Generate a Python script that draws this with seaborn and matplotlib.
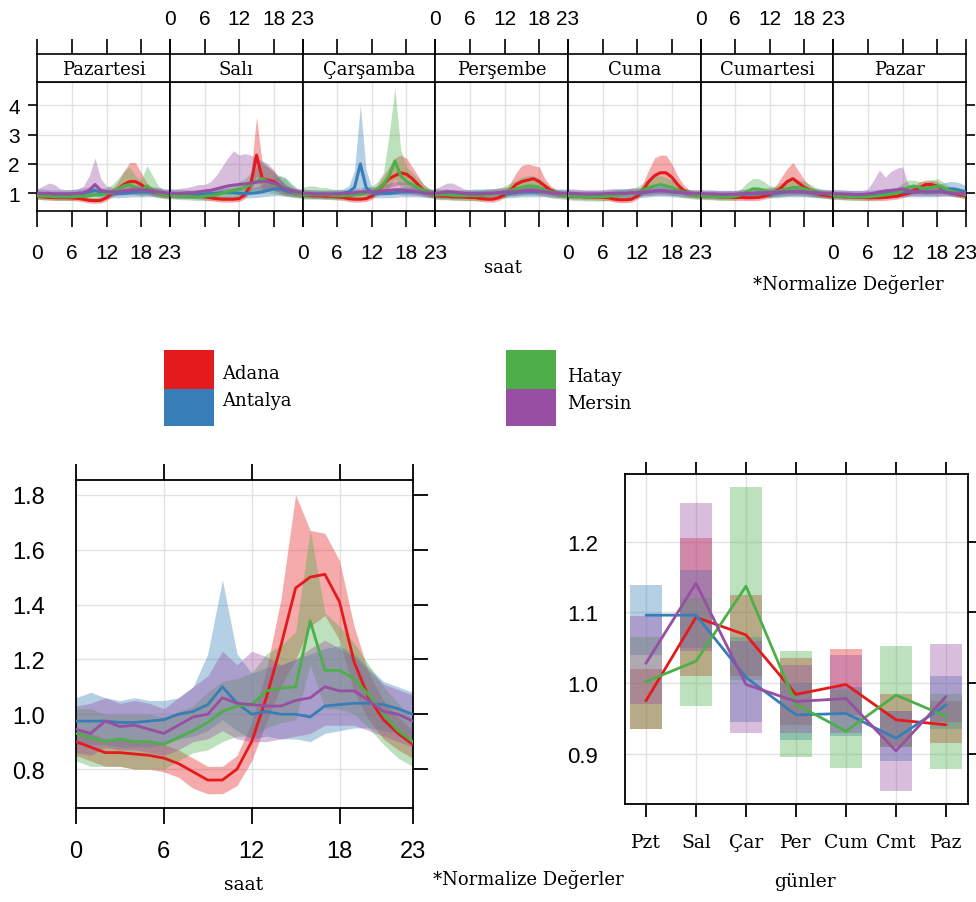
import matplotlib
matplotlib.use("Agg")
import matplotlib.pyplot as plt
import seaborn as sns
import pandas as pd
from matplotlib.patches import Rectangle

# ---------------- data ----------------
CITIES = ["Adana", "Antalya", "Hatay", "Mersin"]
COLORS = ["#E41A1C", "#377EB8", "#4DAF4A", "#984EA3"]
DAY_NAMES = ["Pazartesi", "Salı", "Çarşamba", "Perşembe", "Cuma", "Cumartesi", "Pazar"]
DAY_SHORT = ["Pzt", "Sal", "Çar", "Per", "Cum", "Cmt", "Paz"]
HOUR_TICKS = [0, 6, 12, 18, 23]
HOURS = list(range(24))

# weekly (day x hour) normalised values: mean, lower, upper
ADANA_WK = [
    [0.90,0.88,0.86,0.85,0.85,0.85,0.84,0.83,0.80,0.76,0.75,0.76,0.85,1.00,1.15,1.30,1.40,1.40,1.30,1.15,1.05,1.00,0.95,0.92],
    [0.95,0.93,0.92,0.92,0.92,0.90,0.88,0.85,0.82,0.80,0.80,0.80,0.82,0.95,1.30,2.30,1.50,1.45,1.40,1.25,1.10,1.05,1.00,0.98],
    [0.95,0.93,0.92,0.92,0.90,0.90,0.88,0.86,0.82,0.80,0.80,0.82,0.90,1.10,1.30,1.50,1.60,1.70,1.65,1.50,1.30,1.10,1.00,0.95],
    [0.92,0.90,0.90,0.88,0.88,0.87,0.86,0.85,0.82,0.80,0.80,0.85,0.95,1.10,1.30,1.40,1.45,1.50,1.40,1.25,1.10,1.00,0.95,0.92],
    [0.92,0.90,0.90,0.88,0.88,0.87,0.86,0.85,0.80,0.78,0.78,0.80,0.90,1.10,1.40,1.60,1.70,1.70,1.55,1.30,1.10,1.00,0.95,0.92],
    [0.92,0.90,0.90,0.88,0.88,0.87,0.86,0.86,0.85,0.85,0.86,0.90,0.95,1.05,1.20,1.40,1.50,1.35,1.20,1.10,1.00,0.95,0.92,0.90],
    [0.90,0.90,0.88,0.88,0.87,0.86,0.85,0.85,0.85,0.86,0.88,0.90,0.95,1.00,1.10,1.20,1.30,1.30,1.25,1.15,1.05,1.00,0.95,0.92]]
ADANA_WK_LO = [
    [0.80,0.78,0.77,0.76,0.76,0.76,0.75,0.74,0.70,0.67,0.66,0.67,0.75,0.88,1.00,1.10,1.15,1.15,1.08,1.00,0.92,0.88,0.84,0.82],
    [0.85,0.83,0.82,0.82,0.82,0.80,0.78,0.75,0.72,0.70,0.70,0.70,0.72,0.82,1.05,1.60,1.15,1.10,1.10,1.00,0.92,0.90,0.88,0.87],
    [0.85,0.83,0.82,0.82,0.80,0.80,0.78,0.76,0.72,0.70,0.70,0.72,0.80,0.95,1.05,1.20,1.25,1.30,1.30,1.20,1.05,0.95,0.88,0.85],
    [0.82,0.80,0.80,0.78,0.78,0.77,0.76,0.75,0.72,0.70,0.70,0.75,0.85,0.95,1.05,1.10,1.10,1.15,1.10,1.00,0.95,0.88,0.85,0.82],
    [0.82,0.80,0.80,0.78,0.78,0.77,0.76,0.75,0.70,0.68,0.68,0.70,0.80,0.95,1.10,1.25,1.30,1.30,1.20,1.05,0.95,0.88,0.85,0.82],
    [0.82,0.80,0.80,0.78,0.78,0.77,0.76,0.76,0.75,0.75,0.76,0.80,0.85,0.92,1.00,1.10,1.15,1.05,1.00,0.95,0.88,0.85,0.82,0.80],
    [0.80,0.80,0.78,0.78,0.77,0.76,0.75,0.75,0.75,0.76,0.78,0.80,0.85,0.90,0.98,1.05,1.12,1.12,1.10,1.02,0.95,0.90,0.85,0.82]]
ADANA_WK_HI = [
    [1.00,0.98,0.96,0.95,0.95,0.95,0.94,0.93,0.90,0.86,0.85,0.86,0.96,1.15,1.40,1.75,2.05,2.05,1.70,1.35,1.18,1.12,1.06,1.02],
    [1.05,1.03,1.02,1.02,1.02,1.00,0.98,0.95,0.92,0.90,0.90,0.90,0.93,1.10,1.60,3.60,2.00,1.90,1.75,1.50,1.30,1.20,1.12,1.08],
    [1.05,1.03,1.02,1.02,1.00,1.00,0.98,0.96,0.92,0.90,0.90,0.92,1.02,1.30,1.60,1.90,2.20,2.30,2.20,1.90,1.60,1.30,1.15,1.05],
    [1.02,1.00,1.00,0.98,0.98,0.97,0.96,0.95,0.92,0.90,0.90,0.95,1.08,1.35,1.70,1.95,2.00,1.95,1.90,1.50,1.25,1.12,1.05,1.02],
    [1.02,1.00,1.00,0.98,0.98,0.97,0.96,0.95,0.90,0.88,0.88,0.90,1.02,1.35,1.80,2.20,2.30,2.30,2.00,1.60,1.30,1.12,1.05,1.02],
    [1.02,1.00,1.00,0.98,0.98,0.97,0.96,0.96,0.95,0.95,0.96,1.00,1.08,1.25,1.55,1.85,2.05,1.75,1.45,1.25,1.12,1.05,1.02,1.00],
    [1.00,1.00,0.98,0.98,0.97,0.96,0.95,0.95,0.95,0.96,0.98,1.00,1.05,1.12,1.25,1.40,1.45,1.45,1.40,1.28,1.15,1.10,1.05,1.02]]

ANTALYA_WK = [
    [1.00,0.98,0.98,0.97,0.97,0.97,0.98,1.00,1.00,1.05,1.10,1.02,1.00,1.00,1.00,1.00,1.02,1.05,1.05,1.05,1.05,1.02,1.00,1.00],
    [1.00,0.98,0.98,0.97,0.97,0.97,0.98,1.00,1.00,1.02,1.02,1.02,1.00,1.00,1.00,1.02,1.05,1.10,1.15,1.15,1.10,1.05,1.02,1.00],
    [1.00,0.98,0.98,0.97,0.97,0.97,0.98,1.00,1.05,1.20,2.00,1.20,1.00,1.00,1.00,1.00,1.02,1.05,1.05,1.05,1.05,1.02,1.00,1.00],
    [1.00,0.98,0.98,0.97,0.97,0.97,0.98,1.00,1.00,1.00,1.00,1.00,1.00,1.00,1.02,1.05,1.05,1.05,1.05,1.05,1.02,1.00,1.00,1.00],
    [0.98,0.97,0.97,0.96,0.96,0.96,0.97,0.98,1.00,1.00,1.00,1.00,1.00,1.02,1.05,1.08,1.10,1.08,1.05,1.03,1.02,1.00,0.98,0.98],
    [0.98,0.97,0.97,0.96,0.96,0.96,0.96,0.97,0.98,0.98,1.00,1.00,1.00,1.00,1.02,1.05,1.05,1.05,1.05,1.02,1.00,1.00,0.98,0.98],
    [0.98,0.97,0.97,0.96,0.96,0.96,0.96,0.97,0.98,1.00,1.00,1.02,1.05,1.05,1.05,1.05,1.05,1.05,1.05,1.10,1.15,1.15,1.10,1.05]]
ANTALYA_WK_LO = [
    [0.85,0.83,0.83,0.83,0.82,0.82,0.83,0.85,0.85,0.88,0.90,0.86,0.85,0.85,0.85,0.86,0.87,0.88,0.88,0.88,0.88,0.86,0.85,0.85],
    [0.85,0.83,0.83,0.82,0.82,0.82,0.83,0.85,0.85,0.86,0.86,0.86,0.85,0.85,0.85,0.86,0.88,0.90,0.92,0.92,0.90,0.88,0.86,0.85],
    [0.85,0.83,0.83,0.82,0.82,0.82,0.83,0.85,0.88,0.95,1.20,0.95,0.85,0.85,0.85,0.85,0.86,0.88,0.88,0.88,0.88,0.86,0.85,0.85],
    [0.85,0.83,0.83,0.82,0.82,0.82,0.83,0.85,0.85,0.85,0.85,0.85,0.85,0.85,0.86,0.88,0.88,0.88,0.88,0.88,0.86,0.85,0.85,0.85],
    [0.84,0.83,0.83,0.82,0.82,0.82,0.83,0.84,0.85,0.85,0.85,0.85,0.85,0.86,0.88,0.90,0.90,0.90,0.88,0.87,0.86,0.85,0.84,0.84],
    [0.84,0.83,0.83,0.82,0.82,0.82,0.82,0.83,0.84,0.84,0.85,0.85,0.85,0.85,0.86,0.88,0.88,0.88,0.88,0.86,0.85,0.85,0.84,0.84],
    [0.84,0.83,0.83,0.82,0.82,0.82,0.82,0.83,0.84,0.85,0.85,0.87,0.88,0.88,0.88,0.88,0.88,0.88,0.88,0.90,0.92,0.92,0.90,0.88]]
ANTALYA_WK_HI = [
    [1.15,1.15,1.12,1.12,1.12,1.12,1.13,1.15,1.18,1.22,1.30,1.18,1.15,1.15,1.15,1.15,1.18,1.22,1.22,1.22,1.20,1.18,1.15,1.15],
    [1.15,1.13,1.13,1.12,1.12,1.12,1.13,1.15,1.15,1.18,1.18,1.18,1.15,1.15,1.18,1.22,1.30,1.40,1.50,1.60,1.50,1.30,1.18,1.15],
    [1.15,1.13,1.13,1.12,1.12,1.12,1.13,1.15,1.25,1.80,4.00,1.80,1.18,1.15,1.15,1.15,1.18,1.20,1.22,1.22,1.20,1.18,1.15,1.15],
    [1.15,1.13,1.13,1.12,1.12,1.12,1.13,1.15,1.15,1.15,1.15,1.15,1.15,1.15,1.18,1.22,1.22,1.22,1.22,1.20,1.18,1.15,1.15,1.15],
    [1.12,1.12,1.12,1.10,1.10,1.10,1.12,1.12,1.15,1.15,1.15,1.15,1.15,1.18,1.22,1.28,1.30,1.28,1.22,1.18,1.15,1.13,1.12,1.12],
    [1.12,1.12,1.12,1.10,1.10,1.10,1.10,1.12,1.12,1.12,1.15,1.15,1.15,1.15,1.18,1.22,1.22,1.22,1.20,1.18,1.15,1.15,1.12,1.12],
    [1.12,1.12,1.12,1.10,1.10,1.10,1.10,1.12,1.12,1.15,1.15,1.18,1.22,1.22,1.22,1.25,1.28,1.30,1.30,1.35,1.40,1.40,1.35,1.25]]

HATAY_WK = [
    [0.92,0.90,0.90,0.88,0.88,0.88,0.88,0.90,0.90,0.92,0.95,0.95,1.00,1.05,1.15,1.25,1.30,1.20,1.10,1.25,1.10,1.00,0.95,0.92],
    [0.95,0.92,0.90,0.90,0.88,0.88,0.90,0.92,0.95,1.00,1.05,1.10,1.15,1.20,1.30,1.40,1.50,1.40,1.30,1.25,1.20,1.10,1.00,0.95],
    [0.95,0.95,0.95,0.95,0.95,0.93,0.92,0.92,0.92,0.95,0.95,1.00,1.05,1.15,1.30,1.60,2.10,1.60,1.40,1.30,1.20,1.10,1.00,0.95],
    [0.95,0.95,0.95,0.93,0.92,0.92,0.92,0.92,0.92,0.95,0.98,1.00,1.05,1.10,1.15,1.20,1.25,1.25,1.20,1.10,1.05,1.00,0.95,0.92],
    [0.92,0.90,0.90,0.88,0.88,0.88,0.88,0.90,0.92,0.95,0.98,1.00,1.02,1.10,1.20,1.25,1.30,1.25,1.20,1.10,1.05,1.00,0.95,0.92],
    [0.92,0.90,0.90,0.88,0.88,0.88,0.90,0.95,1.05,1.15,1.15,1.10,1.05,1.05,1.10,1.15,1.20,1.20,1.15,1.10,1.05,1.00,0.98,0.95],
    [0.92,0.90,0.90,0.88,0.88,0.88,0.88,0.90,0.92,0.95,0.98,1.00,1.10,1.20,1.25,1.20,1.15,1.20,1.25,1.20,1.10,1.05,1.00,0.95]]
HATAY_WK_LO = [
    [0.80,0.78,0.78,0.76,0.76,0.76,0.76,0.78,0.78,0.78,0.80,0.80,0.85,0.90,0.95,1.00,1.00,0.95,0.90,0.95,0.90,0.85,0.82,0.80],
    [0.82,0.80,0.78,0.78,0.76,0.75,0.75,0.75,0.78,0.80,0.85,0.88,0.92,0.95,1.00,1.05,1.10,1.05,1.00,0.95,0.92,0.88,0.85,0.82],
    [0.80,0.80,0.80,0.80,0.80,0.78,0.78,0.78,0.78,0.80,0.80,0.85,0.88,0.95,1.05,1.20,1.50,1.20,1.05,1.00,0.95,0.90,0.85,0.82],
    [0.80,0.78,0.78,0.76,0.75,0.75,0.75,0.75,0.75,0.78,0.80,0.82,0.85,0.90,0.92,0.95,0.98,0.98,0.95,0.90,0.85,0.82,0.80,0.78],
    [0.78,0.76,0.75,0.74,0.74,0.74,0.74,0.76,0.78,0.80,0.82,0.85,0.88,0.92,0.95,0.98,1.00,0.98,0.95,0.90,0.85,0.82,0.80,0.78],
    [0.80,0.78,0.78,0.76,0.76,0.76,0.78,0.82,0.88,0.92,0.92,0.90,0.88,0.88,0.90,0.92,0.95,0.95,0.92,0.90,0.86,0.84,0.82,0.80],
    [0.80,0.78,0.78,0.76,0.76,0.76,0.76,0.78,0.80,0.82,0.85,0.88,0.92,0.98,1.02,1.00,0.95,0.98,1.00,0.98,0.92,0.88,0.85,0.82]]
HATAY_WK_HI = [
    [1.05,1.03,1.03,1.00,1.00,1.00,1.00,1.02,1.05,1.10,1.15,1.15,1.20,1.30,1.50,1.75,1.90,1.60,1.45,1.95,1.60,1.25,1.10,1.05],
    [1.08,1.05,1.02,1.02,1.00,1.00,1.02,1.05,1.10,1.15,1.22,1.30,1.40,1.50,1.70,1.90,2.10,1.90,1.70,1.60,1.55,1.35,1.15,1.08],
    [1.20,1.25,1.25,1.20,1.20,1.15,1.12,1.10,1.10,1.12,1.12,1.18,1.25,1.40,1.70,3.00,4.60,2.50,1.90,1.70,1.50,1.30,1.15,1.10],
    [1.15,1.15,1.15,1.12,1.10,1.10,1.10,1.10,1.10,1.12,1.15,1.18,1.25,1.35,1.45,1.55,1.60,1.60,1.50,1.35,1.20,1.12,1.08,1.05],
    [1.08,1.05,1.05,1.02,1.02,1.02,1.02,1.05,1.08,1.12,1.15,1.18,1.22,1.35,1.50,1.60,1.60,1.55,1.45,1.30,1.20,1.12,1.08,1.05],
    [1.05,1.03,1.03,1.00,1.00,1.00,1.05,1.15,1.35,1.50,1.50,1.40,1.25,1.25,1.35,1.45,1.50,1.45,1.40,1.30,1.20,1.12,1.10,1.08],
    [1.05,1.03,1.03,1.00,1.00,1.00,1.00,1.02,1.05,1.10,1.15,1.20,1.35,1.45,1.45,1.40,1.40,1.45,1.50,1.40,1.25,1.15,1.10,1.05]]

MERSIN_WK = [
    [1.00,1.00,1.00,0.98,0.98,0.98,0.98,1.00,1.02,1.10,1.30,1.10,1.05,1.05,1.05,1.08,1.10,1.12,1.12,1.10,1.08,1.05,1.02,1.00],
    [1.00,1.00,1.00,1.02,1.02,1.05,1.08,1.10,1.15,1.20,1.25,1.28,1.30,1.32,1.35,1.38,1.40,1.40,1.35,1.25,1.15,1.10,1.05,1.02],
    [1.00,1.00,0.98,0.98,0.98,0.98,0.98,1.00,1.00,1.02,1.05,1.05,1.05,1.05,1.08,1.10,1.12,1.12,1.10,1.08,1.05,1.02,1.00,1.00],
    [1.00,1.02,1.05,1.05,1.02,1.00,0.98,0.98,0.98,1.00,1.00,1.02,1.05,1.05,1.05,1.08,1.10,1.10,1.08,1.05,1.02,1.00,1.00,1.00],
    [1.00,1.00,0.98,0.98,0.98,0.98,0.98,1.00,1.00,1.00,1.00,1.02,1.02,1.05,1.05,1.08,1.08,1.08,1.05,1.05,1.02,1.00,1.00,1.00],
    [1.00,0.98,0.98,0.97,0.97,0.97,0.97,0.98,1.00,1.00,1.02,1.02,1.03,1.03,1.05,1.05,1.05,1.05,1.05,1.03,1.02,1.00,1.00,1.00],
    [0.98,0.98,0.97,0.97,0.96,0.96,0.98,1.00,1.05,1.08,1.10,1.12,1.15,1.08,1.05,1.05,1.05,1.05,1.05,1.05,1.02,1.00,1.00,1.00]]
MERSIN_WK_LO = [
    [0.88,0.88,0.88,0.86,0.86,0.86,0.86,0.88,0.90,0.95,1.05,0.95,0.92,0.92,0.92,0.94,0.95,0.96,0.96,0.95,0.94,0.92,0.90,0.88],
    [0.88,0.88,0.88,0.88,0.90,0.92,0.92,0.95,0.98,1.00,1.02,1.05,1.08,1.10,1.10,1.12,1.12,1.12,1.10,1.05,0.98,0.95,0.92,0.90],
    [0.88,0.88,0.86,0.86,0.86,0.86,0.86,0.88,0.88,0.90,0.92,0.92,0.92,0.92,0.94,0.95,0.96,0.96,0.95,0.94,0.92,0.90,0.88,0.88],
    [0.88,0.90,0.92,0.92,0.90,0.88,0.86,0.86,0.86,0.88,0.88,0.90,0.92,0.92,0.92,0.94,0.95,0.95,0.94,0.92,0.90,0.88,0.88,0.88],
    [0.88,0.88,0.86,0.86,0.86,0.86,0.86,0.88,0.88,0.88,0.88,0.90,0.90,0.92,0.92,0.94,0.94,0.94,0.92,0.92,0.90,0.88,0.88,0.88],
    [0.88,0.86,0.86,0.85,0.85,0.85,0.85,0.86,0.88,0.88,0.90,0.90,0.90,0.90,0.92,0.92,0.92,0.92,0.92,0.90,0.90,0.88,0.88,0.88],
    [0.86,0.86,0.85,0.85,0.84,0.84,0.86,0.88,0.92,0.92,0.94,0.95,0.98,0.94,0.92,0.92,0.92,0.92,0.92,0.92,0.90,0.88,0.88,0.88]]
MERSIN_WK_HI = [
    [1.15,1.25,1.35,1.30,1.15,1.12,1.12,1.15,1.25,1.60,2.20,1.50,1.25,1.20,1.20,1.22,1.25,1.28,1.28,1.25,1.22,1.20,1.15,1.12],
    [1.15,1.15,1.18,1.20,1.25,1.30,1.30,1.40,1.60,1.90,2.20,2.45,2.30,2.35,2.30,2.20,2.10,2.00,1.80,1.50,1.30,1.20,1.15,1.12],
    [1.12,1.12,1.10,1.10,1.10,1.10,1.10,1.12,1.12,1.15,1.20,1.20,1.22,1.25,1.30,1.35,1.40,1.40,1.35,1.25,1.20,1.15,1.12,1.12],
    [1.15,1.25,1.35,1.35,1.25,1.15,1.12,1.12,1.12,1.15,1.15,1.18,1.20,1.20,1.22,1.25,1.28,1.28,1.25,1.20,1.15,1.12,1.12,1.12],
    [1.15,1.15,1.12,1.12,1.12,1.12,1.12,1.15,1.15,1.15,1.15,1.18,1.18,1.20,1.22,1.25,1.25,1.25,1.22,1.20,1.15,1.12,1.12,1.12],
    [1.12,1.10,1.10,1.10,1.10,1.10,1.10,1.12,1.15,1.15,1.18,1.18,1.20,1.20,1.22,1.22,1.22,1.22,1.20,1.18,1.15,1.12,1.12,1.12],
    [1.12,1.12,1.10,1.10,1.10,1.10,1.15,1.45,1.80,1.55,1.75,1.85,1.90,1.30,1.20,1.20,1.22,1.22,1.20,1.20,1.15,1.12,1.12,1.12]]

# hourly profile (mean, lower, upper)
ADANA_HR = [0.90,0.88,0.86,0.86,0.855,0.85,0.84,0.82,0.79,0.76,0.76,0.80,0.90,1.06,1.25,1.46,1.50,1.51,1.41,1.19,1.06,0.98,0.93,0.89]
ADANA_HR_LO = [0.85,0.83,0.81,0.81,0.80,0.80,0.79,0.77,0.73,0.71,0.71,0.74,0.83,0.97,1.10,1.20,1.32,1.36,1.27,1.08,0.98,0.91,0.87,0.84]
ADANA_HR_HI = [0.95,0.93,0.91,0.91,0.90,0.90,0.89,0.87,0.84,0.81,0.81,0.85,0.97,1.16,1.42,1.80,1.67,1.66,1.56,1.32,1.15,1.05,0.99,0.94]
ANTALYA_HR = [0.975,0.975,0.975,0.97,0.97,0.975,0.98,1.00,1.01,1.035,1.10,1.04,1.00,1.01,1.00,1.00,0.99,1.03,1.035,1.04,1.04,1.035,1.02,1.00]
ANTALYA_HR_LO = [0.89,0.89,0.89,0.88,0.88,0.88,0.89,0.91,0.92,0.94,0.98,0.94,0.91,0.92,0.91,0.91,0.90,0.93,0.94,0.95,0.95,0.94,0.93,0.91]
ANTALYA_HR_HI = [1.06,1.08,1.06,1.05,1.06,1.05,1.05,1.06,1.10,1.22,1.49,1.22,1.15,1.17,1.18,1.20,1.22,1.24,1.25,1.22,1.17,1.12,1.10,1.08]
HATAY_HR = [0.93,0.915,0.90,0.91,0.90,0.90,0.89,0.915,0.94,0.97,1.01,1.03,1.035,1.085,1.095,1.10,1.34,1.16,1.16,1.13,1.07,1.00,0.94,0.90]
HATAY_HR_LO = [0.83,0.81,0.81,0.81,0.80,0.80,0.80,0.83,0.86,0.87,0.90,0.92,0.92,0.95,0.97,0.98,1.18,1.02,1.02,1.00,0.95,0.89,0.84,0.81]
HATAY_HR_HI = [1.02,1.02,1.00,1.00,1.00,1.00,0.99,1.01,1.03,1.08,1.12,1.13,1.15,1.22,1.25,1.30,1.67,1.37,1.32,1.26,1.18,1.10,1.04,0.98]
MERSIN_HR = [0.945,0.93,0.975,0.955,0.96,0.945,0.93,0.96,0.99,1.00,1.06,1.04,1.035,1.03,1.03,1.05,1.06,1.10,1.085,1.085,1.05,1.01,1.00,0.975]
MERSIN_HR_LO = [0.86,0.85,0.88,0.87,0.87,0.86,0.85,0.87,0.90,0.91,0.94,0.91,0.90,0.90,0.91,0.92,0.93,0.96,0.96,0.96,0.94,0.92,0.90,0.88]
MERSIN_HR_HI = [1.03,1.04,1.06,1.04,1.05,1.04,1.02,1.06,1.10,1.14,1.23,1.18,1.23,1.21,1.18,1.20,1.24,1.27,1.24,1.21,1.16,1.11,1.09,1.07]

# day-of-week profile (mean, lower, upper)
ADANA_DAY = [0.975, 1.093, 1.068, 0.984, 0.998, 0.948, 0.941]
ADANA_DAY_LO = [0.935, 1.010, 1.010, 0.940, 0.955, 0.910, 0.915]
ADANA_DAY_HI = [1.020, 1.205, 1.125, 1.035, 1.048, 0.985, 0.975]
ANTALYA_DAY = [1.096, 1.096, 1.008, 0.955, 0.957, 0.922, 0.969]
ANTALYA_DAY_LO = [1.040, 1.050, 0.945, 0.920, 0.925, 0.890, 0.935]
ANTALYA_DAY_HI = [1.138, 1.160, 1.065, 1.000, 0.995, 0.960, 1.010]
HATAY_DAY = [1.002, 1.031, 1.137, 0.970, 0.932, 0.983, 0.953]
HATAY_DAY_LO = [0.935, 0.967, 1.005, 0.895, 0.880, 0.910, 0.878]
HATAY_DAY_HI = [1.065, 1.120, 1.277, 1.045, 0.990, 1.052, 0.985]
MERSIN_DAY = [1.028, 1.141, 0.998, 0.974, 0.978, 0.904, 0.981]
MERSIN_DAY_LO = [0.970, 1.045, 0.930, 0.930, 0.930, 0.848, 0.945]
MERSIN_DAY_HI = [1.095, 1.255, 1.060, 1.025, 1.040, 0.960, 1.055]

# ---------------- tables ----------------
wk_sets = [(ADANA_WK, ADANA_WK_LO, ADANA_WK_HI), (ANTALYA_WK, ANTALYA_WK_LO, ANTALYA_WK_HI),
           (HATAY_WK, HATAY_WK_LO, HATAY_WK_HI), (MERSIN_WK, MERSIN_WK_LO, MERSIN_WK_HI)]
rows = []
for c, (m, lo, hi) in zip(CITIES, wk_sets):
    for d in range(7):
        for h in HOURS:
            rows.append((c, d, h, m[d][h], lo[d][h], hi[d][h]))
df_wk = pd.DataFrame(rows, columns=["city", "day", "hour", "value", "lo", "hi"])

hr_sets = [(ADANA_HR, ADANA_HR_LO, ADANA_HR_HI), (ANTALYA_HR, ANTALYA_HR_LO, ANTALYA_HR_HI),
           (HATAY_HR, HATAY_HR_LO, HATAY_HR_HI), (MERSIN_HR, MERSIN_HR_LO, MERSIN_HR_HI)]
df_hr = pd.concat([pd.DataFrame({"city": c, "hour": HOURS, "value": m, "lo": lo, "hi": hi})
                   for c, (m, lo, hi) in zip(CITIES, hr_sets)], ignore_index=True)

day_sets = [(ADANA_DAY, ADANA_DAY_LO, ADANA_DAY_HI), (ANTALYA_DAY, ANTALYA_DAY_LO, ANTALYA_DAY_HI),
            (HATAY_DAY, HATAY_DAY_LO, HATAY_DAY_HI), (MERSIN_DAY, MERSIN_DAY_LO, MERSIN_DAY_HI)]
df_day = pd.concat([pd.DataFrame({"city": c, "pos": list(range(7)), "value": m, "lo": lo, "hi": hi})
                    for c, (m, lo, hi) in zip(CITIES, day_sets)], ignore_index=True)

# ---------------- style ----------------
sns.set_style("white")
SERIF = ["DejaVu Serif", "Liberation Serif"]
NARROW = ["Liberation Sans Narrow", "Liberation Sans", "DejaVu Sans"]
SANS = ["Liberation Sans", "DejaVu Sans"]
plt.rcParams["font.family"] = SERIF
plt.rcParams["text.color"] = "black"
plt.rcParams["axes.labelcolor"] = "black"
plt.rcParams["xtick.color"] = "black"
plt.rcParams["ytick.color"] = "black"
ALPHA = 0.37
GRID = "#e2e2e2"

W, H = 976, 903
fig = plt.figure(figsize=(W / 100, H / 100), dpi=100)


def add_ax(x0, y0, x1, y1):
    return fig.add_axes([x0 / W, 1 - y1 / H, (x1 - x0) / W, (y1 - y0) / H])


def frame(ax, lw=1.3):
    for sp in ax.spines.values():
        sp.set_visible(True)
        sp.set_color("black")
        sp.set_linewidth(lw)


# ---------------- top: week x hour ----------------
edges = [37.3 + i * 132.67 for i in range(8)]
for d in range(7):
    ax = add_ax(edges[d], 82.7, edges[d + 1], 212.3)
    sub = df_wk[df_wk.day == d]
    for c, col in zip(CITIES, COLORS):
        s = sub[sub.city == c]
        ax.fill_between(s.hour, s.lo, s.hi, color=col, alpha=ALPHA, lw=0, zorder=2)
    sns.lineplot(data=sub, x="hour", y="value", hue="city", hue_order=CITIES, palette=COLORS,
                 ax=ax, legend=False, lw=2.2, errorbar=None, zorder=3)
    ax.set_xlim(0, 23)
    ax.set_ylim(0.388, 4.80)
    ax.set_xticks(HOUR_TICKS)
    ax.set_yticks([1, 2, 3, 4])
    ax.set_axisbelow(True)
    ax.grid(True, color=GRID, lw=1)
    ax.set_xlabel("")
    ax.set_ylabel("")
    ax.tick_params(axis="x", bottom=True, top=False, length=11.5, width=1.2, direction="out",
                   labelbottom=(d % 2 == 0), pad=11, labelsize=15, colors="black")
    ax.tick_params(axis="y", left=(d == 0), right=(d == 6), length=6.5, width=1.2, direction="out",
                   labelleft=(d == 0), labelright=False, pad=6, labelsize=15, colors="black")
    for lab in ax.get_xticklabels() + ax.get_yticklabels():
        lab.set_family(NARROW)
    frame(ax, 1.2)

    st = add_ax(edges[d], 55, edges[d + 1], 82.7)
    st.set_xlim(0, 23)
    st.set_ylim(0, 1)
    st.set_xticks(HOUR_TICKS)
    st.set_yticks([])
    st.tick_params(axis="x", top=True, bottom=False, labeltop=(d % 2 == 1), labelbottom=False,
                   length=10.8, width=1.2, direction="out", pad=8, labelsize=15, colors="black")
    for lab in st.get_xticklabels():
        lab.set_family(NARROW)
    st.text(0.5, 0.45, DAY_NAMES[d], transform=st.transAxes, ha="center", va="center",
            fontsize=13, color="black")
    frame(st, 1.2)

fig.text(503 / W, 1 - 268 / H, "saat", ha="center", va="center", fontsize=13, color="black")
fig.text(753 / W, 1 - 285 / H, "*Normalize Değerler", ha="left", va="center", fontsize=13, color="black")

# ---------------- legend ----------------
for (x0, y0, y1, col) in [(164, 351, 390, COLORS[0]), (164, 390, 427, COLORS[1]),
                          (506, 351, 390, COLORS[2]), (506, 390, 427, COLORS[3])]:
    fig.add_artist(Rectangle((x0 / W, 1 - y1 / H), 50 / W, (y1 - y0) / H,
                             transform=fig.transFigure, color=col, lw=0))
for (x0, yc, name) in [(222, 374, CITIES[0]), (222, 401, CITIES[1]),
                       (567, 377, CITIES[2]), (567, 404, CITIES[3])]:
    fig.text(x0 / W, 1 - yc / H, name, ha="left", va="center", fontsize=13, color="black")

# ---------------- bottom left: hour ----------------
ax2 = add_ax(76, 480.7, 412.7, 809.3)
for c, col in zip(CITIES, COLORS):
    s = df_hr[df_hr.city == c]
    ax2.fill_between(s.hour, s.lo, s.hi, color=col, alpha=ALPHA, lw=0, zorder=2)
sns.lineplot(data=df_hr, x="hour", y="value", hue="city", hue_order=CITIES, palette=COLORS,
             ax=ax2, legend=False, lw=2.0, errorbar=None, zorder=3)
ax2.set_xlim(0, 23)
ax2.set_ylim(0.657, 1.855)
ax2.set_xticks(HOUR_TICKS)
ax2.set_yticks([0.8, 1.0, 1.2, 1.4, 1.6, 1.8])
ax2.set_yticklabels(["0.8", "1.0", "1.2", "1.4", "1.6", "1.8"])
ax2.set_axisbelow(True)
ax2.grid(True, color=GRID, lw=1)
ax2.set_xlabel("")
ax2.set_ylabel("")
ax2.tick_params(axis="x", top=True, bottom=True, length=11.5, width=1.3, direction="out",
                labelsize=17, pad=11, colors="black")
ax2.tick_params(axis="y", left=True, right=True, length=11, width=1.3, direction="out",
                labelsize=17, pad=11.5, colors="black")
for t in ax2.yaxis.get_major_ticks():
    t.tick1line.set_visible(False)
for lab in ax2.get_xticklabels() + ax2.get_yticklabels():
    lab.set_family(SANS)
frame(ax2, 1.3)
fig.text(244 / W, 1 - 885 / H, "saat", ha="center", va="center", fontsize=13.5, color="black")
fig.text(433 / W, 1 - 880 / H, "*Normalize Değerler", ha="left", va="center", fontsize=13, color="black")

# ---------------- bottom right: weekday ----------------
ax3 = add_ax(625, 475, 968, 805)
for c, col in zip(CITIES, COLORS):
    s = df_day[df_day.city == c]
    ax3.bar(s.pos, s.hi - s.lo, bottom=s.lo, width=0.65, color=col, alpha=ALPHA, lw=0, zorder=2)
sns.lineplot(data=df_day, x="pos", y="value", hue="city", hue_order=CITIES, palette=COLORS,
             ax=ax3, legend=False, lw=2.0, errorbar=None, zorder=3)
ax3.set_xlim(-0.42, 6.44)
ax3.set_ylim(0.829, 1.2956)
ax3.set_xticks(range(7))
ax3.set_xticklabels(DAY_SHORT)
ax3.set_yticks([0.9, 1.0, 1.1, 1.2])
ax3.set_yticklabels(["0.9", "1.0", "1.1", "1.2"])
ax3.set_axisbelow(True)
ax3.grid(True, color=GRID, lw=1)
ax3.set_xlabel("")
ax3.set_ylabel("")
ax3.tick_params(axis="x", top=True, bottom=True, length=9, width=1.3, direction="out",
                labelsize=13.5, pad=12, colors="black")
ax3.tick_params(axis="y", left=True, right=True, length=9, width=1.3, direction="out",
                labelsize=16, pad=10.5, colors="black")
for t in ax3.yaxis.get_major_ticks():
    t.tick1line.set_visible(False)
for lab in ax3.get_yticklabels():
    lab.set_family(SANS)
frame(ax3, 1.3)
fig.text(805 / W, 1 - 882 / H, "günler", ha="center", va="center", fontsize=13.5, color="black")

fig.savefig("out.png", dpi=100)
